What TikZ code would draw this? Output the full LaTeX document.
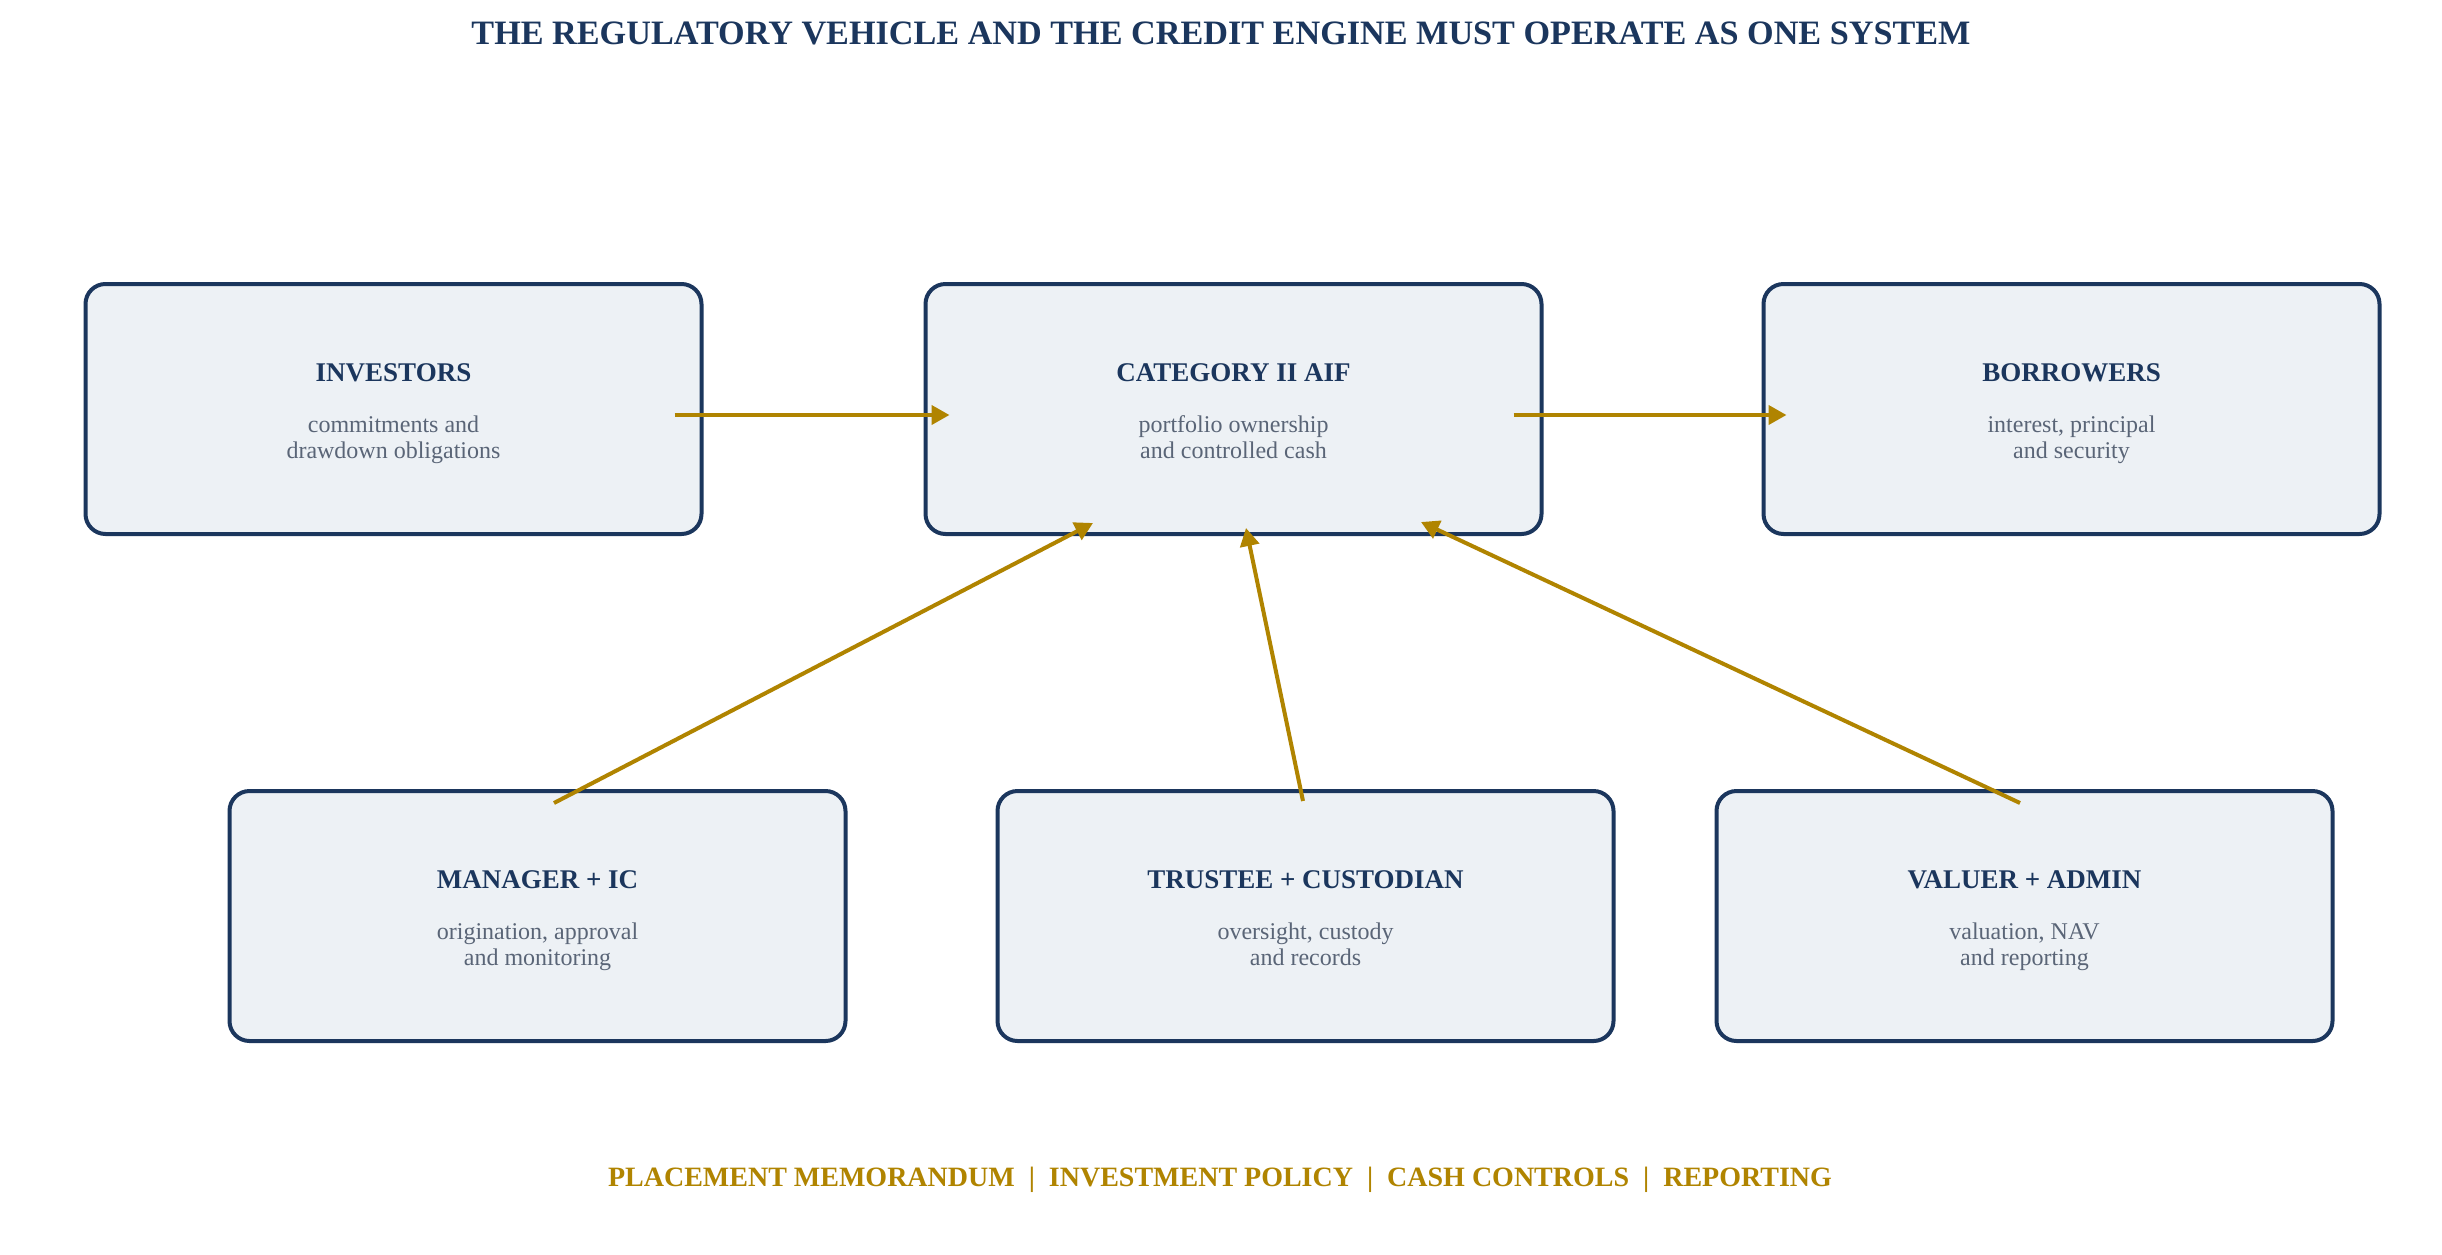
\documentclass[tikz,border=0pt]{standalone}
\usepackage{fontspec}
\setmainfont{Liberation Serif}
\usetikzlibrary{arrows.meta,calc}
\definecolor{navy}{HTML}{1B365D}
\definecolor{boxfill}{HTML}{EDF1F5}
\definecolor{subgrey}{HTML}{5A6577}
\definecolor{gold}{HTML}{B08400}
\newcommand\mkbox[6]{%
  \node[box] (#1) at (#2,#3) {};
  \node[ttl] (#1-t) at ($(#1.center)+(0,-28)$) {#4};
  \node[sub] (#1-a) at ($(#1.center)+(0,23)$) {#5};
  \node[sub] (#1-b) at ($(#1.center)+(0,49)$) {#6};
}
\begin{document}
\begin{tikzpicture}[x=0.5pt,y=-0.5pt,
  box/.style={draw=navy, line width=2pt, fill=boxfill, rounded corners=10pt,
    minimum width=308pt, minimum height=125pt, inner sep=0pt},
  ttl/.style={anchor=base, text=navy, font=\fontsize{13.5}{16}\selectfont\bfseries, inner sep=0pt},
  sub/.style={anchor=base, text=subgrey, font=\fontsize{12}{13}\selectfont, inner sep=0pt},
  flow/.style={draw=gold, line width=2pt, -{Triangle[length=9pt,width=9.5pt]}}]
\fill[white] (0,0) rectangle (2442,1254);
\path[use as bounding box] (0,0) rectangle (2442,1254);

\node[anchor=base, text=navy, font=\fontsize{17.1}{20}\selectfont\bfseries, inner sep=0pt] (title) at (1221,44)
  {THE REGULATORY VEHICLE AND THE CREDIT ENGINE MUST OPERATE AS ONE SYSTEM};

\mkbox{inv}{393.5}{409}{INVESTORS}{commitments and}{drawdown obligations}
\mkbox{aif}{1233.5}{409}{CATEGORY II AIF}{portfolio ownership}{and controlled cash}
\mkbox{bor}{2071.5}{409}{BORROWERS}{interest, principal}{and security}
\mkbox{mgr}{537.5}{916}{MANAGER + IC}{origination, approval}{and monitoring}
\mkbox{tru}{1305.5}{916}{TRUSTEE + CUSTODIAN}{oversight, custody}{and records}
\mkbox{val}{2024.5}{916}{VALUER + ADMIN}{valuation, NAV}{and reporting}

\draw[flow] ($(inv.east)+(-29,6)$) -- ($(aif.west)+(26,6)$);
\draw[flow] ($(aif.east)+(-30,6)$) -- ($(bor.west)+(25,6)$);
\draw[flow] ($(mgr.north)+(16.5,14)$) -- ($(aif.south)+(-140.5,-13)$);
\draw[flow] ($(tru.north)+(-2.5,12)$) -- ($(aif.south)+(12.5,-8)$);
\draw[flow] ($(val.north)+(-4.5,14)$) -- ($(aif.south)+(187.5,-14)$);

\node[anchor=base, text=gold, font=\fontsize{14}{17}\selectfont\bfseries, inner sep=0pt] (footer) at (1220,1186)
  {PLACEMENT MEMORANDUM\hspace{7pt}|\hspace{7pt}INVESTMENT POLICY\hspace{7pt}|\hspace{7pt}CASH CONTROLS\hspace{7pt}|\hspace{7pt}REPORTING};
\end{tikzpicture}
\end{document}
